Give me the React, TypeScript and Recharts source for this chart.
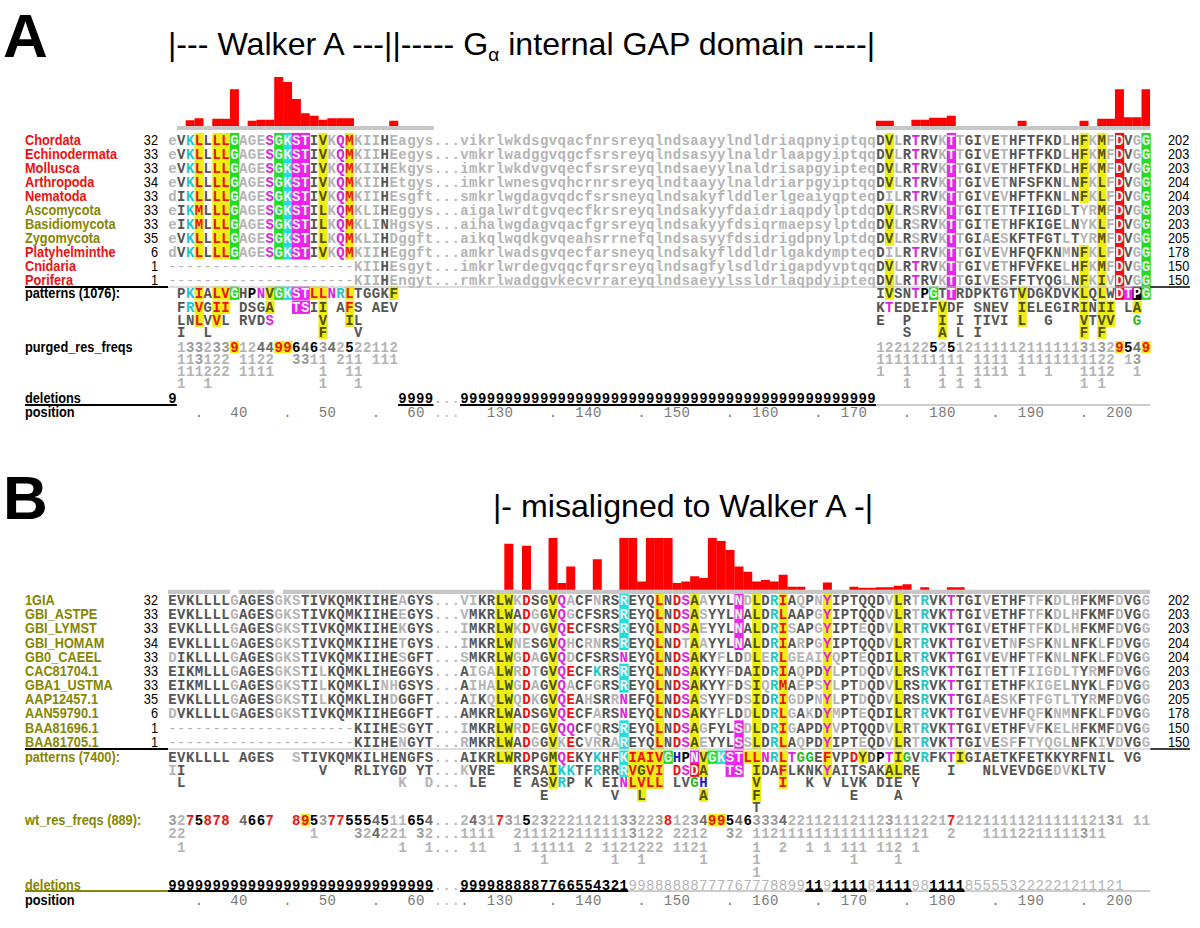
import React from 'react';
import { BarChart, Bar, XAxis, YAxis } from 'recharts';

const CW = 8.85;
const X0 = 168;
const NCOL = 111;
const MONO = "'Liberation Mono', 'DejaVu Sans Mono', monospace";
const SANS = "'Liberation Sans', Arial, Helvetica, sans-serif";
const FS = 14;
const RED = '#ee1111';
const OLIVE = '#868600';

// ---------------- Panel A data ----------------
const A_BAR_COLS = [2, 3, 5, 6, 7, 9, 10, 11, 12, 13, 14, 15, 16, 17, 18, 19, 20, 25, 80, 81, 84, 85, 86, 87, 88, 96, 103, 105, 106, 107, 108, 109, 110];
const A_BAR_VALS = [12, 16, 15, 15, 75, 11, 13, 13, 100, 90, 55, 26, 21, 13, 16, 16, 16, 11, 11, 11, 13, 13, 17, 17, 21, 11, 11, 15, 15, 75, 18, 18, 75];
const A_TRACKS = [[1, 29], [80, 110]];

const A_LABELS = ['Chordata', 'Echinodermata', 'Mollusca', 'Arthropoda', 'Nematoda', 'Ascomycota', 'Basidiomycota', 'Zygomycota', 'Platyhelminthe', 'Cnidaria', 'Porifera'];
const A_LABEL_COLORS = [RED, RED, RED, RED, RED, OLIVE, OLIVE, OLIVE, RED, RED, RED];
const A_START = [32, 33, 33, 34, 33, 33, 33, 35, 6, 1, 1];
const A_END = [202, 203, 203, 204, 204, 203, 203, 205, 178, 150, 150];
const A_HEAD = [
  'eVKLLLLGAGESGKSTIVKQMKIIHEagys',
  'eVKLLLLGAGESGKSTIVKQMKIIHEegys',
  'eVKLLLLGAGESGKSTIVKQMKIIHEkgys',
  'eVKLLLLGAGESGKSTIVKQMKIIHEtgys',
  'dIKLLLLGAGESGKSTIVKQMKIIHEsgft',
  'eIKMLLLGAGESGKSTILKQMKLIHEggys',
  'eIKMLLLGAGESGKSTILKQMKLINHgsys',
  'eVKLLLLGAGESGKSTILKQMKLIHDggft',
  'dVKLLLLGAGESGKSTIVKQMKIIHEggft',
  '---------------------KIIHEsgyt',
  '---------------------KIIHEngyt',
];
const MID = [
  'vikrlwkdsgvqacfnrsreyqlndsaayylndldriaqpnyiptqq',
  'vmkrlwadggvqgcfsrsreyqlndsasyylnaldrlaapgyiptqq',
  'imkrlwkdvgvqecfsrsreyqlndsaeyylnaldrisapgyipteq',
  'imkrlwnesgvqhcrnrsreyqlndtaayylnaldriarpgyiptqq',
  'smkrlwgdagvqdcfsrsneyqlndsakyflddlerlgeaiyqpteq',
  'aigalwrdtgvqecfkrsreyqlndsakyyfdaidriaqpdylptdq',
  'aihalwgdagvqacfgrsreyqlndsakyyfdsiqrmaepsylptdq',
  'aikqlwqdkgvqeahsrrnefqlndsasyyfdsidrigdpnylptdq',
  'amkrlwadsgvqecfarsneyqlndsakyflddldrlgakdympteq',
  'imkrlwrdegvqqcfqrsreyqlndsagfylsdldrigapdyvptqq',
  'rmkrlwadggvkecvrrareyqlndsaeyylssldrlaqpdyipteq',
];
const TAIL = [
  'DVLRTRVKTTGIVETHFTFKDLHFKMFDVGG',
  'DVLRTRVKTTGIVETHFTFKDLHFKMFDVGG',
  'DVLRTRVKTTGIVETHFTFKDLHFKMFDVGG',
  'DVLRTRVKTTGIVETNFSFKNLNFKLFDVGG',
  'DILRTRVKTTGIVEVHFTFKNLNFKLFDVGG',
  'DVLRSRVKTTGITETTFIIGDLTYRMFDVGG',
  'DVLRSRVKTTGITETHFKIGELNYKLFDVGG',
  'DVLRSRVKTTGIAESKFTFGTLTYRMFDVGG',
  'DILRTRVKTTGIVEVHFQFKNMNFKLFDVGG',
  'DVLRTRVKTTGIVETHFVFKELHFKMFDVGG',
  'DVLRTRVKTTGIVESFFTYQGLNFKIVDVGG',
];
const A_STYLE = 'ldcYdYYGlllmGCMMdylmYllldlllll' + 'lll' + 'lllllllllllllllllllllllllllllllllllllllllllllll' + 'dyldmddlMlddldlddddddldylylRdlG';
const A_HL: Record<number, string> = { 2: 'K', 3: 'LM', 5: 'L', 6: 'L', 7: 'G', 11: 'S', 12: 'G', 13: 'K', 14: 'S', 15: 'T', 17: 'VL', 19: 'Q', 20: 'M', 81: 'V', 84: 'T', 88: 'T', 103: 'F', 105: 'MLI', 107: 'D', 110: 'G' };
const A_ALT: Record<number, Record<string, string>> = { 84: { S: 'l' } };

const A_PAT: [number, string, string][][] = [
  [[1, 'PKIALVGHPNVGKSTLLNRLTGGKF', 'dcYdYYGdkmyGCMMYYmcYddddy'], [80, 'IVSNTPGTTRDPKTGTVDGKDVKLQLWDTPG', 'dyddmkGdMdddddddyddddddydydRMKG']],
  [[1, 'FRVGII DSGA  TSII AFS AEV', 'dcYdYY dddy  MMdy dYd ddd'], [80, 'KTEDEIFVDF SNEV IELEGIRINII LA', 'dmdddddydd dddd yddddddydyy dy']],
  [[1, 'LNLVVL RVDS', 'ddYdYd dddm'], [17, 'V', 'y'], [20, 'IL', 'yd'], [80, 'E', 'd'], [83, 'P', 'd'], [87, 'I', 'y'], [89, 'I', 'd'], [91, 'TIVI', 'dddd'], [96, 'L', 'y'], [99, 'G', 'd'], [103, 'VTVV', 'ydyy'], [109, 'G', 'g']],
  [[1, 'I', 'd'], [4, 'L', 'd'], [17, 'F', 'y'], [21, 'V', 'd'], [83, 'S', 'd'], [87, 'A', 'y'], [89, 'L', 'd'], [91, 'I', 'd'], [103, 'F', 'y'], [105, 'F', 'y']],
];
const A_FREQ: [number, string][][] = [
  [[1, '1332339124499646342522112'], [80, '1221225251211111211111131329549']],
  [[1, '113122 1122  3311 211 111'], [80, '1111111111 1111 11111111122 13']],
  [[1, '111222 1111'], [17, '1'], [20, '11'], [80, '1'], [83, '1'], [87, '1'], [89, '1'], [91, '1111'], [96, '1'], [99, '1'], [103, '1112'], [109, '1']],
  [[1, '1'], [4, '1'], [17, '1'], [21, '1'], [83, '1'], [87, '1'], [89, '1'], [91, '1'], [103, '1'], [105, '1']],
];
const A_DEL: [number, string, number][] = [[0, '9', 1], [26, '9999', 1], [30, '...', 0], [33, '99999999999999999999999999999999999999999999999', 1]];

// ---------------- Panel B data ----------------
const B_BAR_COLS = [38, 40, 43, 44, 45, 48, 51, 52, 53, 54, 55, 56, 57, 58, 59, 60, 61, 62, 63, 64, 65, 66, 67, 68, 69, 70, 71, 74, 77, 78, 79, 80, 81, 82, 83, 85, 88, 89];
const B_BAR_VALS = [89, 85, 100, 13, 45, 59, 100, 100, 16, 100, 100, 100, 13, 16, 26, 23, 100, 94, 77, 45, 35, 16, 19, 16, 29, 6, 6, 14, 6, 4, 4, 5, 5, 8, 11, 5, 5, 5];
const B_TRACKS = [[0, 6], [8, 11], [13, 110]];

const B_LABELS = ['1GIA', 'GBI_ASTPE', 'GBI_LYMST', 'GBI_HOMAM', 'GB0_CAEEL', 'CAC81704.1', 'GBA1_USTMA', 'AAP12457.1', 'AAN59790.1', 'BAA81696.1', 'BAA81705.1'];
const B_START = [32, 33, 33, 34, 33, 33, 33, 35, 6, 1, 1];
const B_END = [202, 203, 203, 204, 204, 203, 203, 205, 178, 150, 150];
const B_HEAD = [
  'EVKLLLLGAGESGKSTIVKQMKIIHEAGYS',
  'EVKLLLLGAGESGKSTIVKQMKIIHEEGYS',
  'EVKLLLLGAGESGKSTIVKQMKIIHEKGYS',
  'EVKLLLLGAGESGKSTIVKQMKIIHETGYS',
  'DIKLLLLGAGESGKSTIVKQMKIIHESGFT',
  'EIKMLLLGAGESGKSTILKQMKLIHEGGYS',
  'EIKMLLLGAGESGKSTILKQMKLINHGSYS',
  'EVKLLLLGAGESGKSTILKQMKLIHDGGFT',
  'DVKLLLLGAGESGKSTIVKQMKIIHEGGFT',
  '---------------------KIIHESGYT',
  '---------------------KIIHENGYT',
];
const B_STYLE = '.ddddddlddddllldd.ddddd....ddd' + 'lll' + '....yy.r.dymrd..d.C.ddY.rmy.d..M.y.cY....v.dd.d' + 'dlydlcddmdddld..dll.ll.d..dlddl';
const B_HL: Record<number, string> = { 37: 'L', 38: 'W', 40: 'D', 43: 'V', 44: 'Q', 45: 'E', 51: 'R', 55: 'L', 57: 'D', 58: 'S', 59: 'A', 64: 'NS', 66: 'LI', 68: 'R', 69: 'ILM', 74: 'Y', 82: 'L', 85: 'R', 88: 'T' };
const B_ALT: Record<number, Record<string, string>> = { 45: { Q: 'm' }, 48: { K: 'c' }, 51: { N: 'm' }, 81: { I: 'd' }, 84: { S: 'd' } };

const B_PAT: [number, string, string][][] = [
  [[0, 'EVKLLLL AGES  STIVKQMKILHENGFS', 'ddddddd dddd  lddddddddddddddd'], [30, '...', 'lll'], [33, 'AIKRLWRDPGMQEKYKHFKIAIVGHPNVGKSTLLNRLTGGEFVPDYD', 'ddddyydrddymrddcddCYYYYGbkMyGCMMYYmcYmggdYddryd'], [80, 'PTIGVRFKTIGIAETKFETKKYRFNIL VG', 'kmygdcddmyddddddddddddddddd dd']],
  [[0, 'II', 'ld'], [17, 'V', 'd'], [21, 'RLIYGD', 'dddddd'], [28, 'YT', 'dd'], [30, '...', 'lll'], [33, 'KVRE', 'lddd'], [39, 'KRSAIKKTFRRRRVGVI', 'ddddyccddcddCYyYY'], [57, 'DSDA', 'rmRy'], [63, 'TS', 'MM'], [66, 'IDAFLKNKYAITSAKALRE', 'yddYddddvddddddyydd'], [88, 'I', 'd'], [92, 'NLVEVDGEDVKLTV', 'ddddddddlldddd']],
  [[1, 'L', 'd'], [26, 'K', 'l'], [29, 'D', 'l'], [30, '...', 'lll'], [34, 'LE', 'dd'], [39, 'E', 'd'], [41, 'ASVRP', 'ddycd'], [47, 'K', 'd'], [49, 'EINLVLL', 'ddmYYYY'], [57, 'LVGH', 'ddgb'], [66, 'V', 'y'], [69, 'I', 'Y'], [72, 'K', 'd'], [74, 'V', 'd'], [76, 'LVK', 'ddd'], [80, 'DIE', 'ddd'], [84, 'Y', 'd']],
  [[42, 'E', 'd'], [50, 'V', 'd'], [53, 'L', 'y'], [60, 'A', 'y'], [66, 'F', 'y'], [77, 'E', 'd'], [82, 'A', 'd']],
  [[66, 'T', 'd']],
];
const B_FREQ: [number, string][][] = [
  [[0, '3275878 4667  8953775554511654'], [30, '...'], [33, '24317315232221' + '121133223812349954633342211211211231112217' + '21211111211111121' + '31 11']],
  [[0, '22'], [16, '1'], [21, '324221'], [28, '32'], [30, '...'], [33, '1111'], [39, '2111212111111' + '3122 2212  32 ' + '11211111111111111121' + '  2   ' + '11112211111311']],
  [[1, '1'], [26, '1'], [29, '1'], [30, '...'], [34, '11'], [39, '1'], [41, '11111'], [47, '2'], [49, '1121222'], [57, '1121'], [66, '1'], [69, '2'], [72, '1'], [74, '1'], [76, '111'], [80, '112'], [84, '1']],
  [[42, '1'], [50, '1'], [53, '1'], [60, '1'], [66, '1'], [77, '1'], [82, '1']],
  [[66, '1']],
];
const B_DEL: [number, string, number][] = [
  [0, '999999999999999999999999999999', 1], [30, '...', 0], [33, '9999888887766554321', 1],
  [52, '99888888777767778899', 0], [72, '11', 1], [74, '9', 0], [75, '1111', 1], [79, '8', 0],
  [80, '1111', 1], [84, '98', 0], [86, '1111', 1], [90, '855553222221211121', 0],
];

// tick labels of the position ruler: [end column, label]
const POS_TICKS_A: [number, string][] = [[3, '.'], [8, '40'], [13, '.'], [18, '50'], [23, '.'], [28, '60'], [32, '...'], [38, '130'], [43, '.'], [48, '140'], [53, '.'], [58, '150'], [63, '.'], [68, '160'], [73, '.'], [78, '170'], [83, '.'], [88, '180'], [93, '.'], [98, '190'], [103, '.'], [108, '200']];
const POS_TICKS_B: [number, string][] = [[3, '.'], [8, '40'], [13, '.'], [18, '50'], [23, '.'], [28, '60'], [32, '...'], [33, '.'], [38, '130'], [43, '.'], [48, '140'], [53, '.'], [58, '150'], [63, '.'], [68, '160'], [73, '.'], [78, '170'], [83, '.'], [88, '180'], [93, '.'], [98, '190'], [103, '.'], [108, '200']];

// ---------------- layout ----------------
const A_ROW_Y0 = 140, A_ROW_DY = 14;
const A_PAT_Y = [293, 307, 320, 332];
const A_FREQ_Y = [347, 359, 371, 383];
const A_DEL_Y = 398, A_POS_Y = 412;
const B_ROW_Y0 = 600, B_ROW_DY = 14.17;
const B_PAT_Y = [757, 770, 782, 795, 807];
const B_FREQ_Y = [820, 833, 847, 859, 872];
const B_DEL_Y = 885, B_POS_Y = 900;

const STY: Record<string, { fg: string; bg?: string }> = {
  d: { fg: '#555555' }, l: { fg: '#b4b4b4' }, k: { fg: '#000000' }, r: { fg: RED }, m: { fg: '#dd22dd' },
  c: { fg: '#22c8c8' }, g: { fg: '#22bb22' }, b: { fg: '#1a1acc' }, t: { fg: '#9a9a9a' }, s: { fg: '#6a6a6a' },
  Y: { fg: RED, bg: '#eeee14' }, y: { fg: '#505000', bg: '#eeee14' }, v: { fg: '#dd22dd', bg: '#eeee14' },
  G: { fg: '#f2f2f2', bg: '#22dd22' }, C: { fg: '#f2f2f2', bg: '#22dddd' }, M: { fg: '#f2f2f2', bg: '#ee22ee' },
  R: { fg: '#f2f2f2', bg: RED }, K: { fg: '#ffffff', bg: '#000000' },
};

function digitCode(ch: string) {
  if (ch === '1' || ch === '2') return 'l';
  if (ch === '3') return 't';
  if (ch === '4') return 's';
  if (ch === '5' || ch === '6') return 'k';
  if (ch === '7' || ch === '8') return 'r';
  if (ch === '9') return 'Y';
  return 'l';
}

function consensus(rows: string[]) {
  const out: string[] = [];
  for (let c = 0; c < NCOL; c++) {
    const cnt: Record<string, number> = {};
    let best = '', bn = 0;
    rows.forEach((r) => {
      const ch = (r[c] || '').toUpperCase();
      if (ch >= 'A' && ch <= 'Z') {
        cnt[ch] = (cnt[ch] || 0) + 1;
        if (cnt[ch] > bn) { bn = cnt[ch]; best = ch; }
      }
    });
    out.push(best);
  }
  return out;
}

function resolve(ch: string, c: number, style: string, hl: Record<number, string>, alt: Record<number, Record<string, string>>, cons: string[]) {
  if (ch === '-' || ch === '.' || ch === ' ') return 'l';
  if (ch >= 'a' && ch <= 'z') return 'l';
  const a = alt[c] && alt[c][ch];
  if (a) return a;
  let code = style[c] || '.';
  if (!'dl.'.includes(code) && hl[c] && !hl[c].includes(ch)) code = '.';
  if (code === '.') code = ch === cons[c] ? 'd' : 'l';
  return code;
}

function makeBarData(cols: number[], vals: number[], tracks: number[][]) {
  const rows = [];
  for (let c = 0; c < NCOL; c++) rows.push({ col: c, v: 0, track: 0 });
  cols.forEach((c, i) => { rows[c].v = vals[i]; });
  tracks.forEach(([a, b]) => { for (let c = a; c <= b; c++) rows[c].track = -8; });
  return rows;
}

function Histogram({ data, top, height }: { data: any[]; top: number; height: number }) {
  const w = NCOL * CW;
  return (
    <div style={{ position: 'absolute', left: X0, top, width: w, height }}>
      <BarChart width={w} height={height} data={data} margin={{ top: 0, right: 0, bottom: 0, left: 0 }} barCategoryGap={0} barGap={0} stackOffset="sign">
        <XAxis dataKey="col" hide />
        <YAxis hide domain={[-8, 100]} allowDataOverflow />
        <Bar dataKey="track" stackId="s" fill="#c6c6c6" isAnimationActive={false} />
        <Bar dataKey="v" stackId="s" fill="#ff0000" isAnimationActive={false} />
      </BarChart>
    </div>
  );
}

export default function App() {
  const bgs: React.ReactNode[] = [];
  const txt: React.ReactNode[] = [];
  const extra: React.ReactNode[] = [];
  let key = 0;

  const put = (c: number, yc: number, ch: string, code: string, h: number, weight = 'bold', fill?: string) => {
    if (ch === ' ') return;
    const s = STY[code] || STY.d;
    const x = X0 + c * CW;
    if (s.bg) bgs.push(<rect key={'b' + key++} x={x} y={yc - h / 2} width={CW + 0.4} height={h + 0.4} fill={s.bg} />);
    txt.push(
      <text key={'t' + key++} x={x + CW / 2} y={yc + 5} fill={fill || s.fg} fontWeight={ch === '-' ? 'normal' : weight}>
        {ch}
      </text>
    );
  };

  const seqRows = (rows: string[], y0: number, dy: number, style: string, hl: any, alt: any) => {
    const cons = consensus(rows);
    rows.forEach((r, i) => {
      const yc = y0 + i * dy;
      for (let c = 0; c < r.length; c++) put(c, yc, r[c], resolve(r[c], c, style, hl, alt, cons), dy + 0.2);
    });
  };

  const A_ROWS = A_HEAD.map((h, i) => h + '...' + MID[i] + TAIL[i]);
  const B_ROWS = B_HEAD.map((h, i) => h + '...' + MID[i].toUpperCase() + TAIL[i]);
  seqRows(A_ROWS, A_ROW_Y0, A_ROW_DY, A_STYLE, A_HL, A_ALT);
  seqRows(B_ROWS, B_ROW_Y0, B_ROW_DY, B_STYLE, B_HL, B_ALT);

  const patRows = (rows: [number, string, string][][], ys: number[]) => {
    rows.forEach((segs, i) => segs.forEach(([c0, s, st]) => {
      for (let j = 0; j < s.length; j++) put(c0 + j, ys[i], s[j], (st && st[j] && st[j] !== ' ') ? st[j] : 'd', 13);
    }));
  };
  patRows(A_PAT, A_PAT_Y);
  patRows(B_PAT, B_PAT_Y);

  const freqRows = (rows: [number, string][][], ys: number[]) => {
    rows.forEach((segs, i) => segs.forEach(([c0, s]) => {
      for (let j = 0; j < s.length; j++) put(c0 + j, ys[i], s[j], digitCode(s[j]), 12);
    }));
  };
  freqRows(A_FREQ, A_FREQ_Y);
  freqRows(B_FREQ, B_FREQ_Y);

  const delRow = (segs: [number, string, number][], y: number) => {
    segs.forEach(([c0, s, b]) => {
      for (let j = 0; j < s.length; j++) put(c0 + j, y, s[j], b ? 'k' : 'l', 12, b ? 'bold' : 'normal');
    });
  };
  delRow(A_DEL, A_DEL_Y);
  delRow(B_DEL, B_DEL_Y);

  const posRow = (ticks: [number, string][], y: number) => {
    ticks.forEach(([end, s]) => {
      for (let j = 0; j < s.length; j++) put(end - s.length + 1 + j, y, s[j], 'l', 12, 'normal', s === '...' ? '#bbbbbb' : '#7a7a7a');
    });
  };
  posRow(POS_TICKS_A, A_POS_Y);
  posRow(POS_TICKS_B, B_POS_Y);

  const colX = (c: number) => X0 + c * CW;
  const lines: [number, number, number, string, number][] = [
    [25, X0, 287, '#000', 2], [X0, colX(111), 287, '#bbbbbb', 1], [colX(111), 1190, 287, '#000', 1.5],
    [colX(80), colX(111), 405, '#cccccc', 2],
    [25, colX(1), 405, '#000', 2], [colX(26), colX(30), 405, '#000', 2], [colX(33), colX(80), 405, '#000', 2],
    [25, X0, 749, '#000', 2], [X0, colX(111), 749, '#bbbbbb', 1], [colX(111), 1190, 749, '#000', 1.5],
    [colX(52), colX(111), 891, '#cccccc', 2], [25, X0, 891, OLIVE, 2],
  ];
  B_DEL.forEach(([c0, s, b]) => { if (b) lines.push([colX(c0), colX(c0 + s.length), 891, '#000', 2]); });

  const label = (x: number, y: number, s: string, color: string, bold = true, anchor = 'start') => (
    <text key={'l' + key++} transform={`translate(${x},${y + 5}) scale(0.88,1)`} fontFamily={SANS} fontSize={14.5}
      fontWeight={bold ? 'bold' : 'normal'} fill={color} textAnchor={anchor}>{s}</text>
  );

  A_LABELS.forEach((s, i) => {
    const y = A_ROW_Y0 + i * A_ROW_DY;
    extra.push(label(25, y, s, A_LABEL_COLORS[i]));
    extra.push(label(158, y, String(A_START[i]), '#000', false, 'end'));
    extra.push(label(1168, y, String(A_END[i]), '#000', false));
  });
  B_LABELS.forEach((s, i) => {
    const y = B_ROW_Y0 + i * B_ROW_DY;
    extra.push(label(25, y, s, OLIVE));
    extra.push(label(158, y, String(B_START[i]), '#000', false, 'end'));
    extra.push(label(1168, y, String(B_END[i]), '#000', false));
  });
  extra.push(label(25, A_PAT_Y[0], 'patterns (1076):', '#000'));
  extra.push(label(25, A_FREQ_Y[0], 'purged_res_freqs', '#000'));
  extra.push(label(25, A_DEL_Y, 'deletions', '#000'));
  extra.push(label(25, A_POS_Y, 'position', '#000'));
  extra.push(label(25, B_PAT_Y[0], 'patterns (7400):', OLIVE));
  extra.push(label(25, B_FREQ_Y[0], 'wt_res_freqs (889):', OLIVE));
  extra.push(label(25, B_DEL_Y, 'deletions', OLIVE));
  extra.push(label(25, B_POS_Y, 'position', '#000'));

  const aData = makeBarData(A_BAR_COLS, A_BAR_VALS, A_TRACKS);
  const bData = makeBarData(B_BAR_COLS, B_BAR_VALS, B_TRACKS);

  return (
    <div style={{ position: 'absolute', left: 0, top: 0, width: 1200, height: 928, background: '#fff', overflow: 'hidden' }}>
      <svg width={1200} height={928} style={{ position: 'absolute', left: 0, top: 0 }}>
        <text x={3} y={57} fontFamily={SANS} fontSize={62} fontWeight="bold" fill="#000">A</text>
        <text x={168} y={55} fontFamily={SANS} fontSize={32} fill="#000" textLength={707} lengthAdjust="spacingAndGlyphs">
          {'|--- Walker A ---||----- G'}
          <tspan fontSize={19} dy={6}>α</tspan>
          <tspan dy={-6}>{' internal GAP domain -----|'}</tspan>
        </text>
        <text x={3} y={519} fontFamily={SANS} fontSize={62} fontWeight="bold" fill="#000">B</text>
        <text x={493} y={517} fontFamily={SANS} fontSize={32} fill="#000" textLength={380} lengthAdjust="spacingAndGlyphs">
          {'|- misaligned to Walker A -|'}
        </text>
        <g>{bgs}</g>
        <g fontFamily={MONO} fontSize={FS} textAnchor="middle">{txt}</g>
        {lines.map(([x1, x2, y, col, w], i) => (
          <line key={'ln' + i} x1={x1} x2={x2} y1={y} y2={y} stroke={col} strokeWidth={w} />
        ))}
        {extra}
      </svg>
      <Histogram data={aData} top={77} height={53} />
      <Histogram data={bData} top={538} height={56} />
    </div>
  );
}
